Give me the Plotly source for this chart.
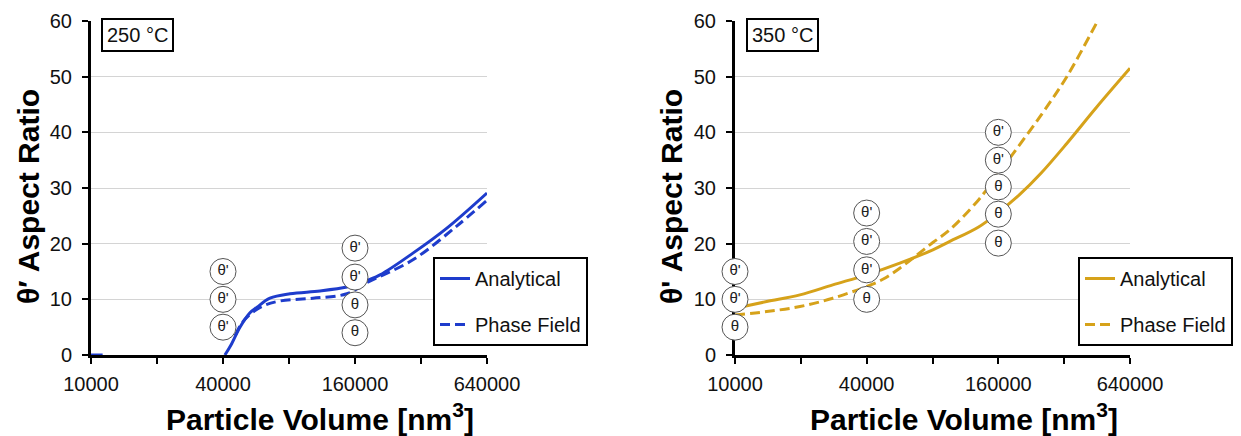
import math
import plotly.graph_objects as go

# ---------------- data ----------------
x_tick_vals = [10000, 40000, 160000, 640000]
x_tick_text = ["10000", "40000", "160000", "640000"]
x_minor_vals = [20000, 80000, 320000]
y_tick_vals = [0, 10, 20, 30, 40, 50, 60]

# 250 °C panel
left_an_x = [10000, 11300, None, 40800, 43500, 47800, 53100, 57200, 65500, 80800,
             110800, 147000, 168700, 208000, 294000, 420000, 640000]
left_an_y = [0, 0, None, 0, 1.8, 5.0, 7.6, 8.6, 10.2, 11.0,
             11.5, 12.2, 12.9, 14.4, 18.3, 22.8, 29.1]
left_pf_x = [45500, 48500, 53100, 60900, 72800, 102900, 147000, 181500, 294000, 467000, 640000]
left_pf_y = [3.5, 5.6, 7.3, 8.8, 9.7, 10.2, 11.0, 13.0, 17.1, 23.2, 27.8]
left_lbl_x = [40000, 40000, 40000, 160000, 160000, 160000, 160000]
left_lbl_y = [5, 10, 15, 4, 9, 14, 19.2]
left_lbl_t = ["θ'", "θ'", "θ'", "θ", "θ", "θ'", "θ'"]

# 350 °C panel
right_an_x = [10000, 13960, 19810, 28000, 39960, 56700, 80300, 96000, 130000,
              160000, 200000, 250000, 329000, 450000, 640000]
right_an_y = [8.4, 9.6, 10.8, 12.6, 14.4, 16.5, 18.9, 20.4, 23.0,
              25.6, 28.8, 32.6, 38.0, 44.5, 51.5]
right_pf_x = [10000, 13960, 19810, 28000, 39960, 47400, 56700, 67600, 80300, 96000,
              127500, 146000, 180000, 250000, 329000, 455000]
right_pf_y = [7.2, 7.8, 8.7, 10.2, 12.3, 13.6, 15.6, 17.9, 20.2, 22.5,
              27.5, 30.4, 35.3, 43.0, 50.0, 60.0]
right_lbl_x = [10000, 10000, 10000, 40000, 40000, 40000, 40000,
               160000, 160000, 160000, 160000, 160000]
right_lbl_y = [5, 10, 15, 10, 15.3, 20.4, 25.5, 20.1, 25.3, 30.2, 35, 40]
right_lbl_t = ["θ", "θ'", "θ'", "θ", "θ'", "θ'", "θ'", "θ", "θ", "θ", "θ'", "θ'"]

BLUE = "#1e3ccc"
GOLD = "#d6a21a"
FONT = "Liberation Sans, Arial, sans-serif"
W, H = 1241, 436

fig = go.Figure()


def curve(x, y, name, color, dash, xa, ya, leg, grp):
    return go.Scatter(x=x, y=y, mode="lines", name=name, connectgaps=False,
                      line=dict(color=color, width=3, dash=dash, shape="spline", smoothing=1.0),
                      xaxis=xa, yaxis=ya, legend=leg, legendgroup=grp)


def labels(x, y, t, xa, ya):
    return go.Scatter(x=x, y=y, mode="markers+text", text=t,
                      textposition="middle center", showlegend=False, cliponaxis=False,
                      textfont=dict(family=FONT, size=15, color="#222"),
                      marker=dict(symbol="circle", size=26, color="white",
                                  line=dict(color="#555", width=1)),
                      xaxis=xa, yaxis=ya)


fig.add_trace(curve(left_an_x, left_an_y, "Analytical", BLUE, "solid", "x", "y", "legend", "a"))
fig.add_trace(curve(left_pf_x, left_pf_y, "Phase Field", BLUE, "10px,5px", "x", "y", "legend", "b"))
fig.add_trace(labels(left_lbl_x, left_lbl_y, left_lbl_t, "x", "y"))

fig.add_trace(curve(right_an_x, right_an_y, "Analytical", GOLD, "solid", "x2", "y2", "legend2", "c"))
fig.add_trace(curve(right_pf_x, right_pf_y, "Phase Field", GOLD, "10px,5px", "x2", "y2", "legend2", "d"))
fig.add_trace(labels(right_lbl_x, right_lbl_y, right_lbl_t, "x2", "y2"))


def px_x(p):
    return p / W


def px_y(p):
    return 1 - p / H


xaxis_common = dict(type="log", range=[4, math.log10(640000)], tickvals=x_tick_vals,
                    ticktext=x_tick_text, ticks="outside", ticklen=6, tickwidth=2,
                    tickcolor="black", showline=True, linecolor="black", linewidth=3,
                    showgrid=False, zeroline=False, layer="below traces", automargin=False,
                    minor=dict(tickvals=x_minor_vals, ticks="outside", ticklen=6,
                               tickwidth=2, tickcolor="black", showgrid=False),
                    tickfont=dict(family=FONT, size=20, color="#111"),
                    ticklabelstandoff=3)
yaxis_common = dict(range=[0, 60], tickvals=y_tick_vals, ticks="outside", ticklen=6,
                    tickwidth=2, tickcolor="black", showline=True, linecolor="black",
                    linewidth=3, showgrid=True, gridcolor="#d4d4d4", gridwidth=1,
                    zeroline=False, layer="below traces", automargin=False,
                    tickfont=dict(family=FONT, size=20, color="#111"),
                    ticklabelstandoff=6)

ydom = [px_y(355), px_y(21)]
leg_common = dict(xanchor="left", yanchor="top", bgcolor="white", bordercolor="black",
                  borderwidth=2, font=dict(family=FONT, size=20, color="#111"),
                  tracegroupgap=17, traceorder="grouped", itemwidth=30)
fig.update_layout(
    width=W, height=H, margin=dict(l=0, r=0, t=0, b=0, autoexpand=False),
    paper_bgcolor="white", plot_bgcolor="white",
    xaxis=dict(xaxis_common, domain=[px_x(91), px_x(487)], anchor="y"),
    yaxis=dict(yaxis_common, domain=ydom, anchor="x"),
    xaxis2=dict(xaxis_common, domain=[px_x(735), px_x(1130)], anchor="y2"),
    yaxis2=dict(yaxis_common, domain=ydom, anchor="x2"),
    legend=dict(leg_common, x=px_x(433), y=px_y(257)),
    legend2=dict(leg_common, x=px_x(1078), y=px_y(257)),
    showlegend=True,
)

title_font = dict(family=FONT, size=30, color="black", weight="bold")
ann = []
for cx, label in [(137, "250 °C"), (782, "350 °C")]:
    ann.append(dict(x=px_x(cx), y=px_y(35.5), xref="paper", yref="paper",
                    text=label, showarrow=False, xanchor="center", yanchor="middle",
                    font=dict(family=FONT, size=20, color="#111"),
                    bgcolor="white", bordercolor="black", borderwidth=2, borderpad=4))
for cx in [320, 964]:
    ann.append(dict(x=px_x(cx), y=px_y(417), xref="paper", yref="paper",
                    text="Particle Volume [nm<sup>3</sup>]", showarrow=False,
                    xanchor="center", yanchor="middle", font=title_font))
for cx, t in [(28, "θ′ Aspect Ratio"), (671, "θ' Aspect Ratio")]:
    ann.append(dict(x=px_x(cx), y=px_y(197), xref="paper", yref="paper",
                    text=t, showarrow=False, textangle=-90,
                    xanchor="center", yanchor="middle", font=title_font))
fig.update_layout(annotations=ann)

fig.write_html("out.html")
